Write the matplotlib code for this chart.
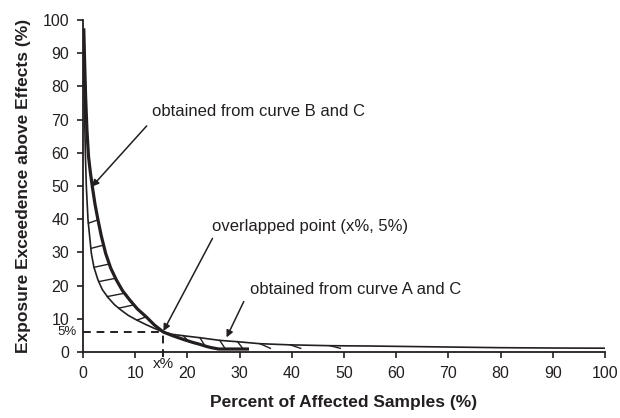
import numpy as np
import matplotlib

matplotlib.use("Agg")
import matplotlib.pyplot as plt  # noqa: E402
import matplotlib.transforms as mtransforms  # noqa: E402

plt.rcParams["font.family"] = ["Liberation Sans", "DejaVu Sans"]

INK = "#231f20"

# thick curve (upper-left, drops to ~0 after the overlap point)
thick_x = [0.15, 0.3, 0.5, 0.75, 1.05, 1.4, 1.79, 2.3, 2.87, 3.5, 4.34, 5.3, 6.39, 7.6,
           8.94, 10.4, 12.1, 13.7, 15.4, 17.2, 19.2, 21.0, 22.4, 23.6, 24.6, 26.0, 31.8]
thick_y = [97.5, 88, 77, 67, 59, 54.2, 49.8, 44.5, 39.8, 35.0, 29.7, 25.3, 21.7, 18.4,
           15.7, 13.0, 10.6, 8.1, 6.0, 4.9, 3.8, 2.9, 2.3, 1.7, 1.3, 0.9, 0.9]

# thin curve (lower-left, becomes the long right tail after the overlap point)
thin_x = [0.05, 0.15, 0.3, 0.45, 0.64, 0.96, 1.6, 2.1, 2.87, 3.7, 4.8, 6.0, 7.3, 8.7,
          10.2, 12.0, 13.7, 15.4,
          17.2, 19.2, 22.4, 26.2, 29.6, 33.9, 39.7, 47.3, 55, 60, 70, 80, 90, 100]
thin_y = [97, 85, 72, 60, 49.8, 39.8, 29.7, 25.5, 21.7, 18.8, 16.4, 14.3, 12.6, 11.0,
          9.7, 8.3, 7.1, 6.0,
          5.3, 4.9, 4.3, 3.5, 3.1, 2.5, 2.15, 1.9, 1.8, 1.7, 1.5, 1.3, 1.2, 1.15]

overlap_x, overlap_y = 15.4, 6.0

# hatch positions: y levels on the left band, x starts on the right band
hatch_left_y = [38.8, 31.2, 25.5, 21.2, 16.7, 13.2, 9.6]
hatch_right_x = [19.2, 22.4, 26.2, 29.6, 33.9, 39.7, 47.3]

xticks = list(range(0, 101, 10))
yticks = list(range(0, 101, 10))

fig = plt.figure(figsize=(6.2, 4.18), dpi=100)
ax = fig.add_axes([83 / 620, 66 / 418, 522 / 620, 332 / 418])

ax.plot(thin_x, thin_y, color=INK, lw=1.2, solid_capstyle="butt", zorder=3)
ax.plot(thick_x, thick_y, color=INK, lw=2.3, solid_capstyle="butt", zorder=4)

# hatching between the two curves
tx, ty = np.array(thick_x), np.array(thick_y)
nx, ny = np.array(thin_x), np.array(thin_y)
n_left = 19
for y0 in hatch_left_y:
    x0 = np.interp(y0, ny[:n_left - 1][::-1], nx[:n_left - 1][::-1])
    x1 = np.interp(y0 + 1.0, ty[:n_left][::-1], tx[:n_left][::-1])
    ax.plot([x0, x1], [y0, y0 + 1.0], color=INK, lw=1.0, zorder=2)
for x0 in hatch_right_x:
    y0 = np.interp(x0, nx, ny)
    x1 = x0 + (1.0 if x0 < 32 else 2.0)
    y1 = max(np.interp(x1, tx, ty), 1.1)
    ax.plot([x0, x1], [y0, y1], color=INK, lw=1.0, zorder=2)

# overlap guide lines
ax.plot([0, overlap_x], [overlap_y, overlap_y], color=INK, lw=1.4, ls=(0, (4, 3)), zorder=2)
ax.plot([overlap_x, overlap_x], [-1.5, overlap_y], color=INK, lw=1.4, ls=(0, (4, 3)),
        clip_on=False, zorder=2)

ax.text(-1.2, overlap_y, "5%", ha="right", va="center", fontsize=9.5, color=INK)
trans = mtransforms.blended_transform_factory(ax.transData, ax.transAxes)
ax.text(overlap_x, -0.035, "x%", ha="center", va="center", fontsize=11, color=INK,
        transform=trans)

arrow = dict(arrowstyle="-|>", color=INK, lw=1.1, mutation_scale=10, shrinkA=0, shrinkB=0)
ax.annotate("", xy=(1.7, 49.8), xytext=(12.2, 68.1), arrowprops=arrow)
ax.text(13.2, 72.4, "obtained from curve B and C", fontsize=12, va="center", color=INK)
ax.annotate("", xy=(overlap_x, overlap_y + 0.3), xytext=(24.8, 34.2), arrowprops=arrow)
ax.text(24.8, 37.7, "overlapped point (x%, 5%)", fontsize=12, va="center", color=INK)
ax.annotate("", xy=(27.5, 4.4), xytext=(30.8, 15.2), arrowprops=arrow)
ax.text(32.0, 18.7, "obtained from curve A and C", fontsize=12, va="center", color=INK)

ax.set_xlim(0, 100)
ax.set_ylim(0, 100)
ax.set_xticks(xticks)
ax.set_yticks(yticks)
ax.tick_params(direction="out", length=4, width=1.2, labelsize=11.5, colors=INK, pad=6)
for side in ("top", "right"):
    ax.spines[side].set_visible(False)
for side in ("left", "bottom"):
    ax.spines[side].set_linewidth(1.3)
    ax.spines[side].set_color(INK)

ax.set_xlabel("Percent of Affected Samples (%)", fontsize=12.5, fontweight="bold",
              color=INK, labelpad=10)
ax.set_ylabel("Exposure Exceedence above Effects (%)", fontsize=12.5, fontweight="bold",
              color=INK, labelpad=8)

fig.savefig("out.png", dpi=100, facecolor="white")
plt.close(fig)
